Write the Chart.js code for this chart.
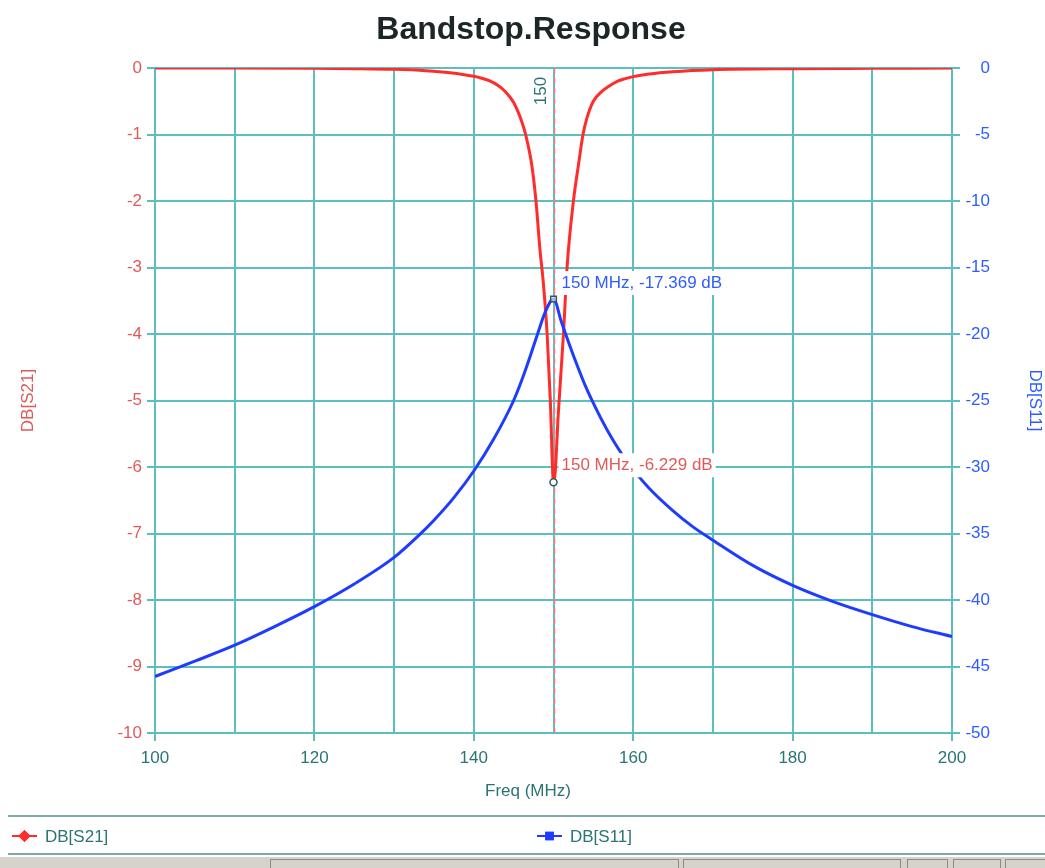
<!DOCTYPE html>
<html>
<head>
<meta charset="utf-8">
<title>Bandstop.Response</title>
<script src="https://cdn.jsdelivr.net/npm/chart.js@4/dist/chart.umd.min.js"></script>
<style>
  html, body { margin: 0; padding: 0; background: #ffffff; }
  #wrap { position: relative; width: 1045px; height: 868px; }
</style>
</head>
<body>
<div id="wrap"><canvas id="chart" width="1045" height="868"></canvas></div>
<script>
// Swept response of the band-stop filter, frequency in MHz, levels in dB
const freqS21 = [100, 110, 120, 125, 130, 134, 137, 140, 141, 142, 143, 144, 145, 146, 146.5, 147.3, 147.8, 148.3, 148.7, 149.2, 149.6, 150, 150.2, 150.6, 151.25, 151.7, 152.5, 153.2, 153.7, 154.2, 155, 156, 157, 158, 159, 160, 162, 165, 170, 180, 190, 200];
const dbS21 = [0, 0, -0.005, -0.01, -0.02, -0.04, -0.07, -0.125, -0.155, -0.195, -0.26, -0.36, -0.52, -0.8, -1.0, -1.48, -2.0, -2.73, -3.2, -4.0, -5.0, -6.229, -6.1, -5.2, -4.0, -3.0, -2.0, -1.4, -1.0, -0.75, -0.5, -0.36, -0.27, -0.2, -0.16, -0.13, -0.09, -0.055, -0.025, -0.01, -0.005, 0];

const freqS11 = [100, 105, 110, 115, 120, 125, 130, 133, 135, 137.5, 140, 142.5, 145, 146, 147, 148, 149, 150, 151, 152, 153, 154, 155, 156, 157, 158, 159, 160, 162, 165, 167.5, 170, 175, 180, 185, 190, 195, 200];
const dbS11 = [-45.75, -44.6, -43.4, -42.0, -40.5, -38.8, -36.8, -35.2, -34.0, -32.3, -30.3, -27.9, -25.0, -23.5, -21.8, -20.0, -18.3, -17.369, -19.1, -20.8, -22.4, -23.9, -25.2, -26.4, -27.5, -28.5, -29.4, -30.2, -31.6, -33.3, -34.5, -35.5, -37.4, -38.9, -40.1, -41.1, -42.0, -42.75];

// Marker placed at the notch centre
const markerFreq = [150];
const markerS21 = [-6.229];
const markerS11 = [-17.369];

const seriesNames = ['DB[S21]', 'DB[S11]'];
const chartTitle = 'Bandstop.Response';
const xTitle = 'Freq (MHz)';

const RED = '#ff2c2c';
const BLUE = '#1e3cff';
const GRID = '#5cbfbf';
const TEAL_TEXT = '#2a7474';
const RED_TEXT = '#e05a5a';
const BLUE_TEXT = '#2f5cff';
const FONT = '"Liberation Sans", Arial, Helvetica, sans-serif';
const tickFont = { family: FONT, size: 17 };

const toPoints = (xs, ys) => xs.map((x, i) => ({ x: x, y: ys[i] }));

// Title, marker line, marker readouts, axis captions, legend strip and status bar
const decorations = {
  id: 'decorations',
  beforeDatasetsDraw(chart) {
    const { ctx, chartArea: a, scales: { x } } = chart;
    const px = Math.round(x.getPixelForValue(markerFreq[0])) + 0.5;
    ctx.save();
    ctx.strokeStyle = '#ff7a7a';
    ctx.lineWidth = 1.5;
    ctx.setLineDash([6, 4]);
    ctx.beginPath();
    ctx.moveTo(px, a.top);
    ctx.lineTo(px, a.bottom);
    ctx.stroke();
    ctx.restore();
  },
  afterDatasetsDraw(chart) {
    const { ctx, chartArea: a, scales: { x, y, y1 } } = chart;
    const px = x.getPixelForValue(markerFreq[0]);
    ctx.save();
    ctx.font = '17px ' + FONT;
    ctx.textBaseline = 'middle';
    ctx.textAlign = 'left';
    const readout = (text, py, color) => {
      const w = ctx.measureText(text).width;
      ctx.fillStyle = '#ffffff';
      ctx.fillRect(px + 5, py - 12, w + 6, 24);
      ctx.fillStyle = color;
      ctx.fillText(text, px + 8, py);
    };
    readout(markerFreq[0] + ' MHz, ' + markerS11[0].toFixed(3) + ' dB', y1.getPixelForValue(markerS11[0]) - 16, BLUE_TEXT);
    readout(markerFreq[0] + ' MHz, ' + markerS21[0].toFixed(3) + ' dB', y.getPixelForValue(markerS21[0]) - 17, RED_TEXT);
    // frequency tag beside the marker line
    ctx.save();
    ctx.translate(px - 12, a.top + 23);
    ctx.rotate(-Math.PI / 2);
    ctx.textAlign = 'center';
    ctx.fillStyle = TEAL_TEXT;
    ctx.fillText(String(markerFreq[0]), 0, 0);
    ctx.restore();
    ctx.restore();
  },
  afterDraw(chart) {
    const { ctx, chartArea: a } = chart;
    const W = chart.width;
    ctx.save();

    // chart title
    ctx.font = 'bold 32px ' + FONT;
    ctx.fillStyle = '#1c2626';
    ctx.textAlign = 'center';
    ctx.textBaseline = 'middle';
    ctx.fillText(chartTitle, 531, 30);

    // x axis caption
    ctx.font = '17px ' + FONT;
    ctx.fillStyle = TEAL_TEXT;
    ctx.fillText(xTitle, 528, 791);

    // right axis caption, read top to bottom
    ctx.save();
    ctx.translate(1035, (a.top + a.bottom) / 2);
    ctx.rotate(Math.PI / 2);
    ctx.fillStyle = BLUE_TEXT;
    ctx.fillText(seriesNames[1], 0, 0);
    ctx.restore();

    // legend strip
    ctx.fillStyle = '#7fa8a8';
    ctx.fillRect(8, 815, W - 8, 2);
    ctx.fillRect(8, 853, W - 8, 2);
    const slots = [12, 537];
    chart.data.datasets.filter(d => d.legendStyle).forEach((d, i) => {
      const lx = slots[i], ly = 836;
      ctx.strokeStyle = d.borderColor;
      ctx.lineWidth = 2;
      ctx.beginPath();
      ctx.moveTo(lx, ly);
      ctx.lineTo(lx + 25, ly);
      ctx.stroke();
      ctx.fillStyle = d.borderColor;
      Chart.helpers.drawPoint(ctx, { pointStyle: d.legendStyle, radius: 6, rotation: 0, borderWidth: 0 }, lx + 12.5, ly);
      ctx.fill();
      ctx.fillStyle = TEAL_TEXT;
      ctx.textAlign = 'left';
      ctx.fillText(d.label, lx + 33, ly + 1);
    });

    // status bar
    ctx.fillStyle = '#d6d3cc';
    ctx.fillRect(0, 857, W, 11);
    ctx.fillStyle = '#ffffff';
    ctx.fillRect(0, 856, W, 1);
    ctx.strokeStyle = '#8f8b84';
    ctx.lineWidth = 1;
    [[270, 408], [683, 217], [907, 40], [953, 47], [1005, 40]].forEach(p => {
      ctx.strokeRect(p[0] + 0.5, 859.5, p[1], 12);
    });
    ctx.restore();
  }
};

new Chart(document.getElementById('chart'), {
  type: 'line',
  data: {
    datasets: [
      {
        label: seriesNames[0],
        data: toPoints(freqS21, dbS21),
        yAxisID: 'y',
        borderColor: RED,
        borderWidth: 3,
        pointRadius: 0,
        cubicInterpolationMode: 'monotone',
        legendStyle: 'rectRot',
        order: 2
      },
      {
        label: seriesNames[1],
        data: toPoints(freqS11, dbS11),
        yAxisID: 'y1',
        borderColor: BLUE,
        borderWidth: 3,
        pointRadius: 0,
        cubicInterpolationMode: 'monotone',
        legendStyle: 'rect',
        order: 1
      },
      {
        label: 'm2',
        data: toPoints(markerFreq, markerS11),
        yAxisID: 'y1',
        showLine: false,
        pointStyle: 'rect',
        pointRadius: 4,
        pointBorderWidth: 1.5,
        pointBorderColor: '#2f5a5a',
        pointBackgroundColor: 'rgba(255,255,255,0.6)',
        order: 0
      },
      {
        label: 'm1',
        data: toPoints(markerFreq, markerS21),
        yAxisID: 'y',
        showLine: false,
        pointStyle: 'circle',
        pointRadius: 3.5,
        pointBorderWidth: 1.5,
        pointBorderColor: '#2f5a5a',
        pointBackgroundColor: '#ffffff',
        order: 0
      }
    ]
  },
  options: {
    responsive: false,
    animation: false,
    events: [],
    layout: { padding: { left: 0, right: 55, top: 68, bottom: 55 } },
    plugins: {
      legend: { display: false },
      tooltip: { enabled: false },
      title: { display: false }
    },
    scales: {
      x: {
        type: 'linear',
        position: 'bottom',
        min: 100,
        max: 200,
        afterFit: s => { s.height = 80; },
        ticks: {
          stepSize: 10,
          autoSkip: false,
          maxRotation: 0,
          color: TEAL_TEXT,
          font: tickFont,
          padding: 7,
          callback: v => (v % 20 === 0 ? String(v) : '')
        },
        grid: {
          color: GRID,
          lineWidth: 2,
          tickLength: 8,
          tickColor: c => (c.tick && c.tick.value % 20 === 0 ? GRID : 'rgba(0,0,0,0)')
        },
        border: { color: GRID, width: 2 }
      },
      y: {
        position: 'left',
        min: -10,
        max: 0,
        afterFit: s => { s.width = 155; },
        ticks: { stepSize: 1, color: RED_TEXT, font: tickFont, padding: 5 },
        grid: { color: GRID, lineWidth: 2, tickLength: 8 },
        border: { color: GRID, width: 2 },
        title: {
          display: true,
          text: seriesNames[0],
          color: RED_TEXT,
          font: tickFont,
          padding: { top: 18, bottom: 0 }
        }
      },
      y1: {
        position: 'right',
        min: -50,
        max: 0,
        afterFit: s => { s.width = 38; },
        ticks: { stepSize: 5, color: BLUE_TEXT, font: tickFont, padding: 5, crossAlign: 'far' },
        grid: { drawOnChartArea: false, color: GRID, lineWidth: 2, tickLength: 8 },
        border: { color: GRID, width: 2 }
      }
    }
  },
  plugins: [decorations]
});
</script>
</body>
</html>
